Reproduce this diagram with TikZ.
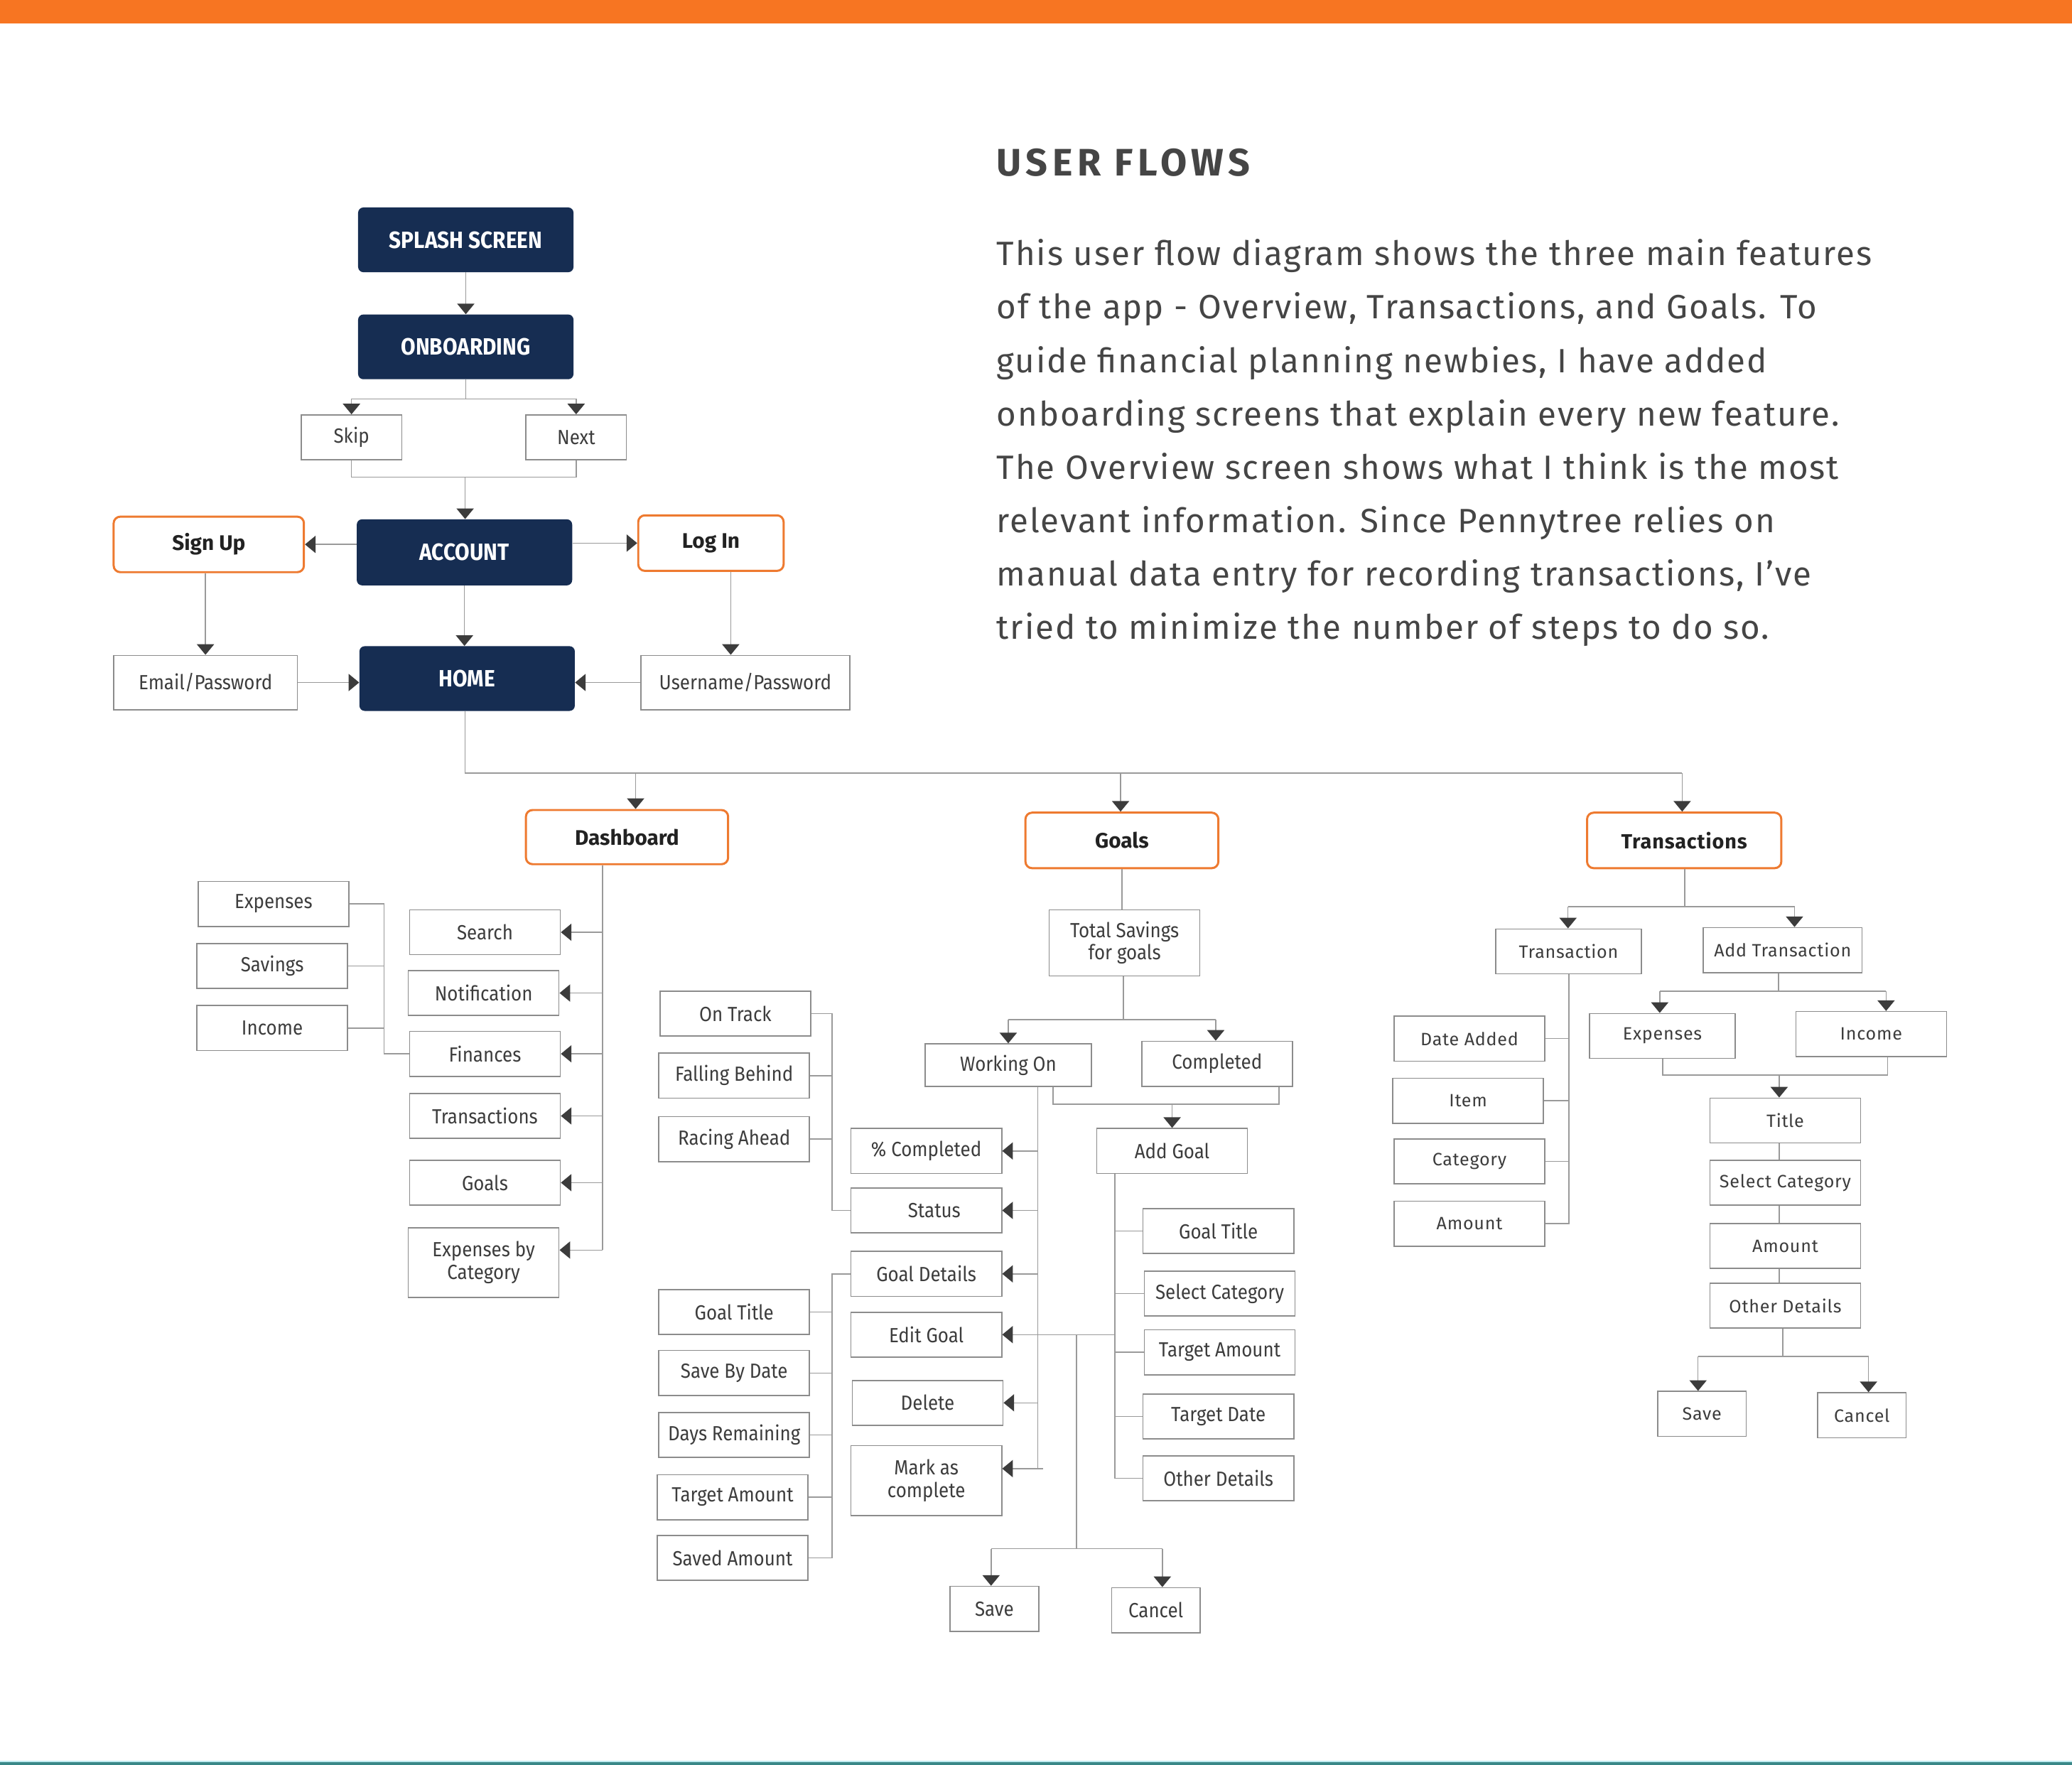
\documentclass[tikz,border=0pt]{standalone}
\usepackage{fontspec}
\setmainfont{Fira Sans}
\newfontfamily\condf{Fira Sans}[FakeStretch=0.9]
\newfontfamily\widef{Fira Sans}[LetterSpace=3]
\newfontfamily\paraf{Fira Sans}[LetterSpace=4.2]
\newfontfamily\headf{Fira Sans}[LetterSpace=12]
\usetikzlibrary{arrows.meta}
\definecolor{navy}{HTML}{162D52}
\definecolor{orng}{HTML}{EE7A30}
\definecolor{barorng}{HTML}{F77522}
\definecolor{teal}{HTML}{3A8888}
\definecolor{lcyan}{HTML}{BFEAF0}
\definecolor{boxgray}{HTML}{8C8C8C}
\definecolor{lngray}{HTML}{9A9A9A}
\definecolor{tipcol}{HTML}{3C3C3C}
\definecolor{txtgray}{HTML}{3D3D3D}
\definecolor{txtdark}{HTML}{222222}
\definecolor{headgray}{HTML}{454545}
\tikzset{
  gbox/.style 2 args={draw=boxgray, line width=0.9pt, fill=white, minimum width=#1pt, minimum height=#2pt, inner sep=0pt, text=txtgray, font=\condf\fontsize{15.5}{17}\selectfont, align=center},
  tbox/.style 2 args={gbox={#1}{#2}, font=\widef\fontsize{13.5}{16}\selectfont},
  nbox/.style 2 args={fill=navy, rounded corners=4pt, minimum width=#1pt, minimum height=#2pt, inner sep=0pt, text=white, font=\condf\bfseries\fontsize{17.8}{20}\selectfont},
  obox/.style 2 args={draw=orng, line width=1.6pt, rounded corners=5pt, fill=white, minimum width=#1pt, minimum height=#2pt, inner sep=0pt, text=txtdark, font=\bfseries\fontsize{16}{18}\selectfont},
  ln/.style={draw=lngray, line width=0.8pt},
  arr/.style={ln, -{Triangle[width=13pt,length=8pt,color=tipcol]}},
  para/.style={anchor=base west, inner sep=0pt, text=headgray, font=\paraf\fontsize{25.5}{28}\selectfont},
}
\begin{document}
\begin{tikzpicture}[x=1pt,y=-1pt]
\useasboundingbox (0,0) rectangle (1568,1335.7);
\fill[white] (0,0) rectangle (1568,1335.7);
\fill[barorng] (0,0) rectangle (1568,17.5);
\fill[lcyan] (0,1332.5) rectangle (1568,1333.7);
\fill[teal] (0,1333.7) rectangle (1568,1335.7);

% ---------- heading and text ----------
\node[anchor=base west, inner sep=0pt, text=headgray, font=\headf\bfseries\fontsize{29}{32}\selectfont] (title) at (754,133) {USER FLOWS};
\node[para] (p1) at (754,201) {This user flow diagram shows the three main features};
\node[para] (p2) at (754,241.4) {of the app - Overview, Transactions, and Goals. To};
\node[para] (p3) at (754,281.8) {guide financial planning newbies, I have added};
\node[para] (p4) at (754,322.2) {onboarding screens that explain every new feature.};
\node[para] (p5) at (754,362.6) {The Overview screen shows what I think is the most};
\node[para] (p6) at (754,403) {relevant information. Since Pennytree relies on};
\node[para] (p7) at (754,443.4) {manual data entry for recording transactions, I’ve};
\node[para] (p8) at (754,483.8) {tried to minimize the number of steps to do so.};

% ---------- top flow ----------
\node[nbox={163}{49}] (splash) at (352.5,181.5) {SPLASH SCREEN};
\node[nbox={163}{49}] (onb) at (352.5,262.5) {ONBOARDING};
\node[gbox={76}{34}] (skip) at (266,331) {Skip};
\node[gbox={76}{34}] (next) at (436,331) {Next};
\node[nbox={163}{50}] (acct) at (351.5,418) {ACCOUNT};
\node[obox={144}{42}] (signup) at (158,412) {Sign Up};
\node[obox={110}{42}] (login) at (538,411) {Log In};
\node[gbox={139}{41}] (email) at (155.5,516.5) {Email/Password};
\node[nbox={163}{49}] (home) at (353.5,513.5) {HOME};
\node[gbox={158}{41}] (user) at (564,516.5) {Username/Password};

\draw[arr] (splash.south) -- (onb.north);
\coordinate (ob) at (352,302);
\draw[ln] (onb.south) -- (onb.south |- ob);
\draw[arr] (ob) -| (skip.north);
\draw[arr] (ob) -| (next.north);
\coordinate (sb) at (352,361);
\draw[ln] (skip.south) |- (sb);
\draw[ln] (next.south) |- (sb);
\draw[arr] (sb) -- (sb |- acct.north);
\draw[arr] (acct.west |- signup.east) -- (signup.east);
\draw[arr] (acct.east |- login.west) -- (login.west);
\draw[arr] (email.north |- signup.south) -- (email.north);
\coordinate (lu) at ([xshift=15pt]login.south);
\draw[arr] (lu) -- (lu |- user.north);
\draw[arr] (acct.south) -- (acct.south |- home.north);
\draw[arr] (email.east) -- (email.east -| home.west);
\draw[arr] (user.west) -- (user.west -| home.east);

% ---------- main bus ----------
\node[obox={153}{41}] (dash) at (474.5,633.5) {Dashboard};
\node[obox={146}{42}] (goals) at (849,636) {Goals};
\node[obox={147}{42}, font=\widef\bfseries\fontsize{15.5}{18}\selectfont] (tr) at (1274.5,636) {Transactions};
\coordinate (hb) at (352,585);
\coordinate (hd) at (481,585);
\coordinate (hg) at (848,585);
\coordinate (ht) at (1273,585);
\draw[ln] (home.south -| hb) -- (hb) -- (ht);
\draw[arr] (hd) -- (hd |- dash.north);
\draw[arr] (hg) -- (hg |- goals.north);
\draw[arr] (ht) -- (ht |- tr.north);

% ---------- dashboard ----------
\node[gbox={114}{34}] (search) at (367,705.5) {Search};
\node[gbox={114}{34}] (notif) at (366,751.5) {Notification};
\node[gbox={114}{34}] (fin) at (367,797.5) {Finances};
\node[gbox={114}{34}] (trans1) at (367,844.5) {Transactions};
\node[gbox={114}{34}] (goals1) at (367,895) {Goals};
\node[gbox={114}{53}] (ebc) at (366,955.5) {Expenses by\\Category};
\node[gbox={114}{34}] (exp1) at (207,684) {Expenses};
\node[gbox={114}{34}] (sav) at (206,731) {Savings};
\node[gbox={114}{34}] (inc) at (206,778) {Income};
\coordinate (dv) at (456,655);
\coordinate (ebcA) at ([yshift=9.5pt]ebc.east);
\draw[ln] (dash.south -| dv) -- (dv |- ebcA);
\draw[arr] (search.east -| dv) -- (search.east);
\draw[arr] (notif.east -| dv) -- (notif.east);
\draw[arr] (fin.east -| dv) -- (fin.east);
\draw[arr] (trans1.east -| dv) -- (trans1.east);
\draw[arr] (goals1.east -| dv) -- (goals1.east);
\draw[arr] (ebcA -| dv) -- (ebcA);
\coordinate (lv) at (290.5,700);
\draw[ln] (exp1.east) -| (lv |- fin.west) -- (fin.west);
\draw[ln] (sav.east) -- (sav.east -| lv);
\draw[ln] (inc.east) -- (inc.east -| lv);

% ---------- goals ----------
\node[gbox={114}{50}] (tsg) at (851,713.5) {Total Savings\\for goals};
\draw[ln] (goals.south) -- (goals.south |- tsg.north);
\coordinate (gb) at (850,771.5);
\coordinate (gbl) at (763,771.5);
\coordinate (gbr) at (920,771.5);
\draw[ln] (tsg.south -| gb) -- (gb);
\draw[ln] (gbl) -- (gbr);
\node[gbox={126}{32}] (won) at (763,806) {Working On};
\node[gbox={114}{34}] (comp) at (921,805) {Completed};
\draw[arr] (gbl) -- (gbl |- won.north);
\draw[arr] (gbr) -- (gbr |- comp.north);
\node[gbox={114}{34}] (addg) at (887,871) {Add Goal};
\coordinate (wc1) at (797,835.6);
\coordinate (wc2) at (968,835.6);
\coordinate (wc3) at (887,835.6);
\draw[ln] (wc1 |- won.south) -- (wc1) -- (wc2) -- (wc2 |- comp.south);
\draw[arr] (wc3) -- (wc3 |- addg.north);

\node[gbox={114}{34}] (pct) at (701,871) {\% Completed};
\node[gbox={114}{34}] (status) at (701,916) {\hspace*{12pt}Status};
\node[gbox={114}{34}] (gdet) at (701,964) {Goal Details};
\node[gbox={114}{34}] (edit) at (701,1010) {Edit Goal};
\node[gbox={114}{34}] (del) at (702,1061.6) {Delete};
\node[gbox={114}{53}] (mac) at (701,1120.4) {Mark as\\complete};
\coordinate (wv) at (785.4,822);
\coordinate (macA) at ([yshift=9pt]mac.east);
\draw[ln] (wv |- won.south) -- (wv |- macA) -- ([xshift=4pt]wv |- macA);
\draw[arr] ([xshift=4pt]wv |- macA) -- (macA);
\draw[arr] (pct.east -| wv) -- (pct.east);
\draw[arr] (status.east -| wv) -- (status.east);
\draw[arr] (gdet.east -| wv) -- (gdet.east);
\draw[arr] (del.east -| wv) -- (del.east);

\node[gbox={114}{34}] (ontrack) at (556.5,767) {On Track};
\node[gbox={114}{34}] (fall) at (555.6,814) {Falling Behind};
\node[gbox={114}{34}] (race) at (555.6,862) {Racing Ahead};
\coordinate (gl) at (629.7,800);
\draw[ln] (ontrack.east) -| (gl |- status.west) -- (status.west);
\draw[ln] (fall.east) -- (fall.east -| gl);
\draw[ln] (race.east) -- (race.east -| gl);

\node[gbox={114}{34}] (gtitle) at (555.6,993) {Goal Title};
\node[gbox={114}{34}] (sbd) at (555.6,1039) {Save By Date};
\node[gbox={114}{34}] (dr) at (555.6,1086) {Days Remaining};
\node[gbox={114}{34}] (tam) at (554.4,1133) {Target Amount};
\node[gbox={114}{34}] (sam) at (554.4,1179) {Saved Amount};
\draw[ln] (gdet.west) -| (gl |- sam.east) -- (sam.east);
\draw[ln] (gtitle.east) -- (gtitle.east -| gl);
\draw[ln] (sbd.east) -- (sbd.east -| gl);
\draw[ln] (dr.east) -- (dr.east -| gl);
\draw[ln] (tam.east) -- (tam.east -| gl);

\node[gbox={114}{34}] (gt2) at (922,931.7) {Goal Title};
\node[gbox={114}{34}] (scat) at (923,979) {Select Category};
\node[gbox={114}{34}] (tam2) at (923,1023.3) {Target Amount};
\node[gbox={114}{34}] (tdate) at (922,1072) {Target Date};
\node[gbox={114}{34}] (od) at (922,1118.6) {Other Details};
\coordinate (av) at (843.6,900);
\draw[ln] (addg.south -| av) -- (av |- od.west) -- (od.west);
\draw[ln] (gt2.west -| av) -- (gt2.west);
\draw[ln] (scat.west -| av) -- (scat.west);
\draw[ln] (tam2.west -| av) -- (tam2.west);
\draw[ln] (tdate.west -| av) -- (tdate.west);
\draw[arr] (edit.east -| av) -- (edit.east);

\node[gbox={67}{34}] (gsave) at (752.5,1217.5) {Save};
\node[gbox={67}{34}] (gcancel) at (874.7,1218.5) {Cancel};
\coordinate (sv) at (814.6,1172);
\coordinate (sl) at (750,1172);
\coordinate (sr) at (879.6,1172);
\draw[ln] (edit.east -| sv) -- (sv);
\draw[ln] (sl) -- (sr);
\draw[arr] (sl) -- (sl |- gsave.north);
\draw[arr] (sr) -- (sr |- gcancel.north);

% ---------- transactions ----------
\node[tbox={110}{34}] (tx) at (1187,720) {Transaction};
\node[tbox={120}{34}] (atx) at (1349,719) {Add Transaction};
\coordinate (tb0) at (1275,686);
\coordinate (tbl) at (1186.6,686);
\coordinate (tbr) at (1358,686);
\draw[ln] (tr.south -| tb0) -- (tb0);
\draw[ln] (tbl) -- (tbr);
\draw[arr] (tbl) -- (tbl |- tx.north);
\draw[arr] (tbr) -- (tbr |- atx.north);

\node[tbox={114}{34}] (da) at (1112,786) {Date Added};
\node[tbox={114}{34}] (item) at (1111,833) {Item};
\node[tbox={114}{34}] (cat) at (1112,879) {Category};
\node[tbox={114}{34}] (amt) at (1112,926) {Amount};
\coordinate (tv) at (1187.3,800);
\draw[ln] (tx.south -| tv) -- (tv |- amt.east) -- (amt.east);
\draw[ln] (da.east) -- (da.east -| tv);
\draw[ln] (item.east) -- (item.east -| tv);
\draw[ln] (cat.east) -- (cat.east -| tv);

\node[tbox={110}{34}] (texp) at (1258,784) {Expenses};
\node[tbox={114}{34}] (tinc) at (1416,782.5) {Income};
\coordinate (ab0) at (1345.8,750);
\coordinate (abl) at (1256,750);
\coordinate (abr) at (1427.3,750);
\draw[ln] (atx.south -| ab0) -- (ab0);
\draw[ln] (abl) -- (abr);
\draw[arr] (abl) -- (abl |- texp.north);
\draw[arr] (abr) -- (abr |- tinc.north);

\node[tbox={114}{34}] (ttitle) at (1351,848) {Title};
\node[tbox={114}{34}] (tsc) at (1351,895) {Select Category};
\node[tbox={114}{34}] (tam3) at (1351,943) {Amount};
\node[tbox={114}{34}] (tod) at (1351,988) {Other Details};
\coordinate (eb1) at (1258.3,813.5);
\coordinate (eb2) at (1428.4,813.5);
\coordinate (eb3) at (1346.4,813.5);
\draw[ln] (texp.south -| eb1) -- (eb1) -- (eb2) -- (eb2 |- tinc.south);
\draw[arr] (eb3) -- (eb3 |- ttitle.north);
\coordinate (cv) at (1346.4,900);
\draw[ln] (ttitle.south -| cv) -- (tsc.north -| cv);
\draw[ln] (tsc.south -| cv) -- (tam3.north -| cv);
\draw[ln] (tam3.south -| cv) -- (tod.north -| cv);

\node[tbox={67}{34}] (tsave) at (1288,1070) {Save};
\node[tbox={67}{34}] (tcancel) at (1409,1071) {Cancel};
\coordinate (ob0) at (1349,1026.5);
\coordinate (obl) at (1285,1026.5);
\coordinate (obr) at (1414,1026.5);
\draw[ln] (tod.south -| ob0) -- (ob0);
\draw[ln] (obl) -- (obr);
\draw[arr] (obl) -- (obl |- tsave.north);
\draw[arr] (obr) -- (obr |- tcancel.north);
\end{tikzpicture}
\end{document}
